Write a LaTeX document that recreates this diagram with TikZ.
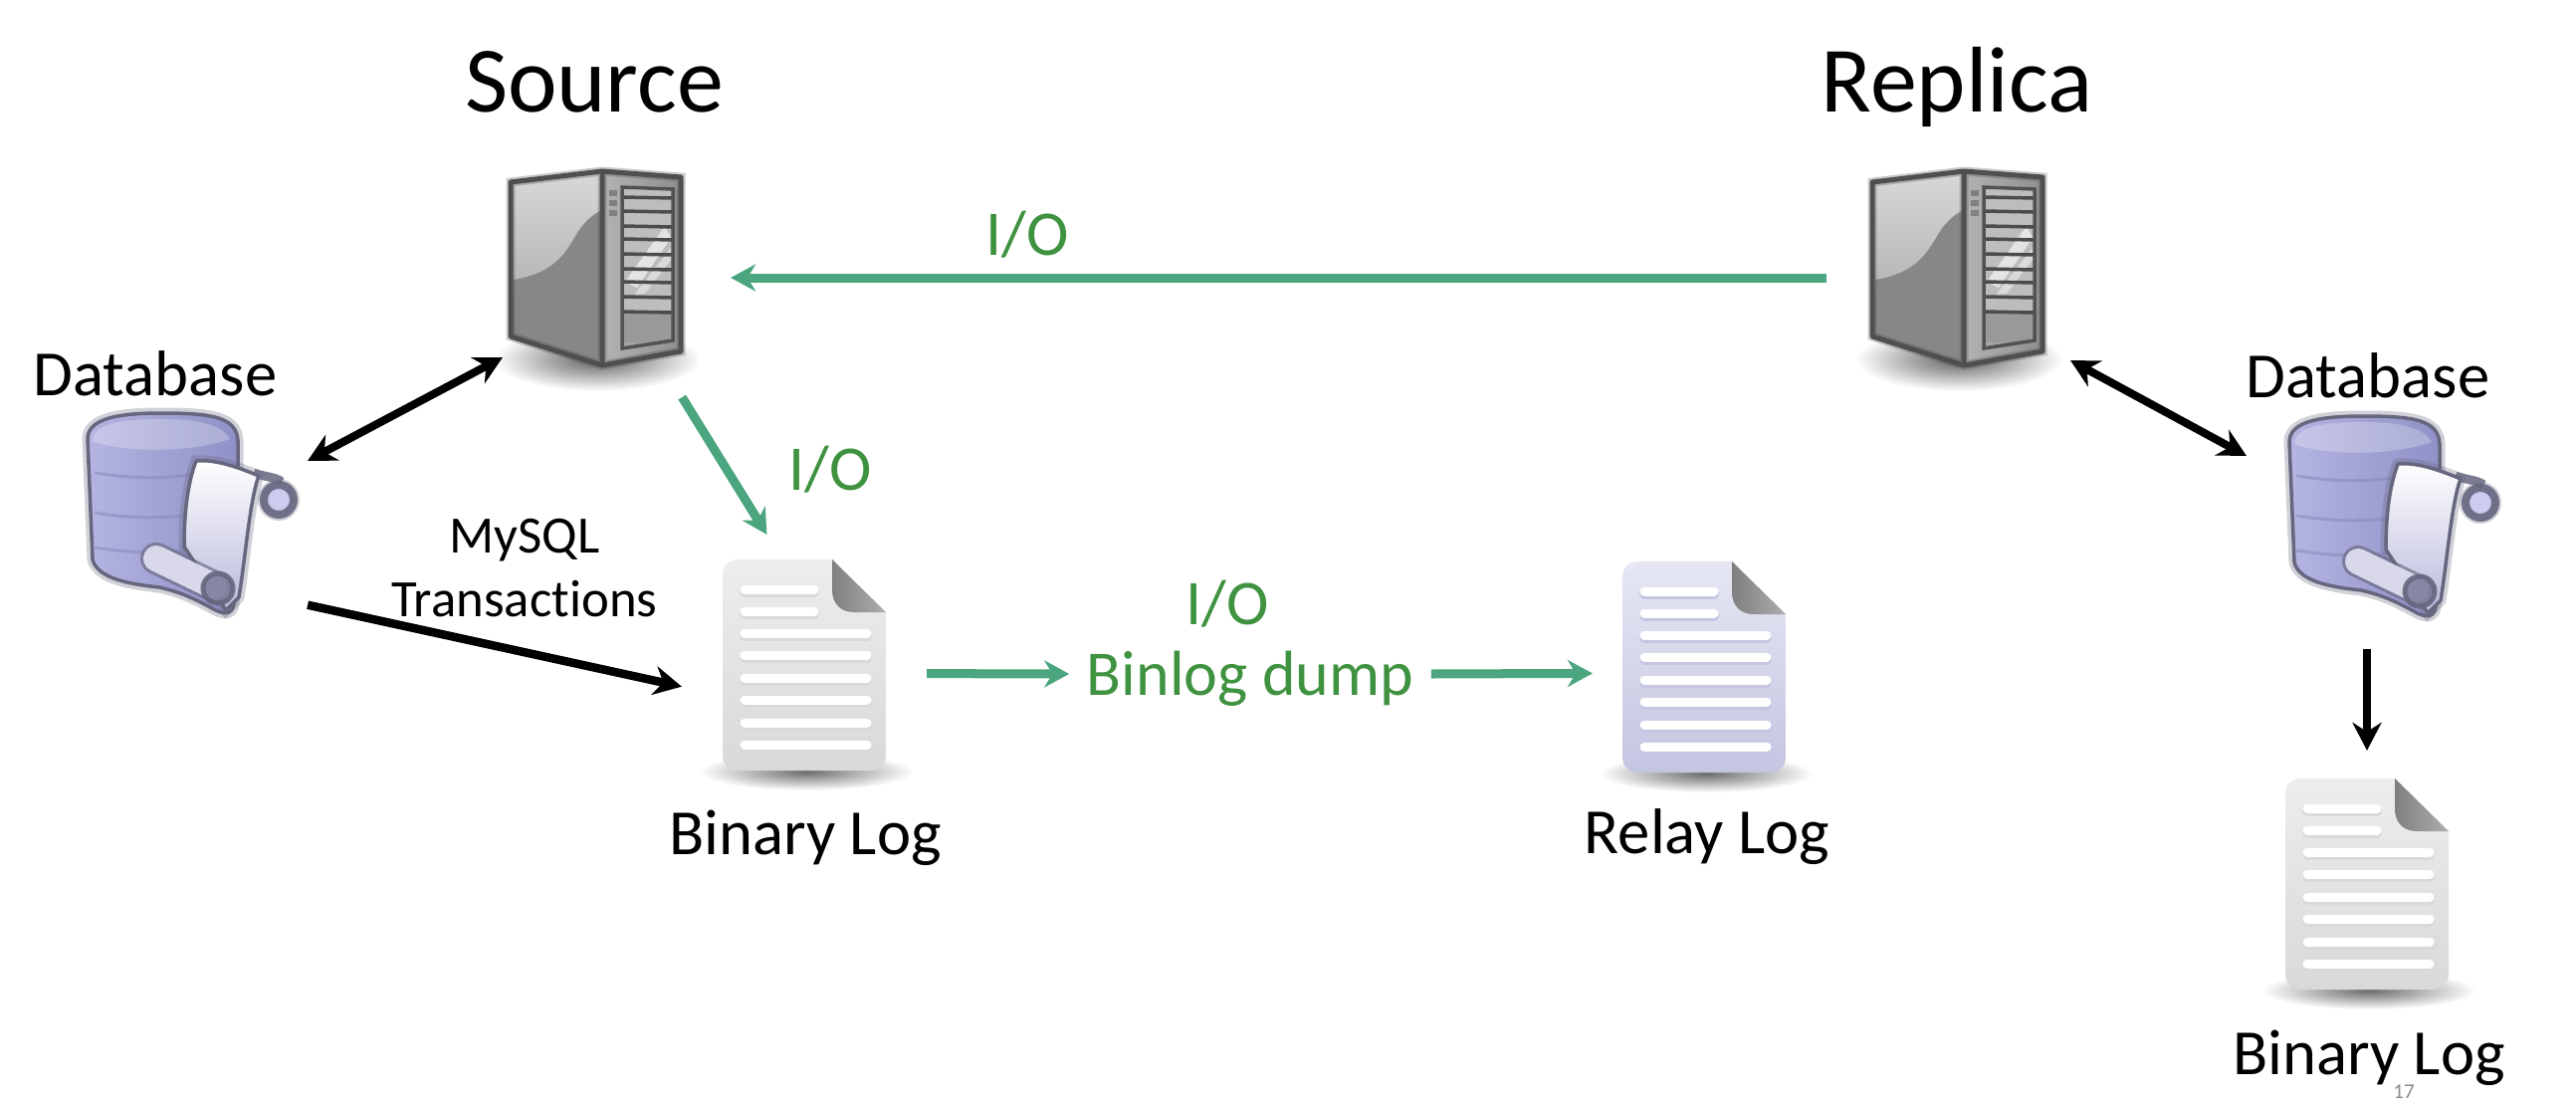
\documentclass[tikz,border=0pt]{standalone}
\usepackage{fontspec}
\setmainfont{Carlito}[Ligatures=NoCommon]
\usetikzlibrary{arrows.meta}
\definecolor{linkgreen}{HTML}{4BA57E}
\definecolor{iogreen}{HTML}{3F9240}
\definecolor{srvedge}{HTML}{4F4F4F}
\definecolor{dbedge}{HTML}{66667F}
\definecolor{dbleft}{HTML}{B4B5E2}
\definecolor{dbright}{HTML}{8F90C6}
\definecolor{dbsheet}{HTML}{B9B9DC}
\definecolor{dbroll}{HTML}{D8D8EA}
\definecolor{dbend}{HTML}{7F7F9E}
\definecolor{dbcurl}{HTML}{C8C8EE}
\definecolor{dbslice}{HTML}{8486B8}
\definecolor{docgraytop}{HTML}{EDEDED}
\definecolor{docgraybot}{HTML}{D9D9D9}
\definecolor{docbluetop}{HTML}{E6E7F3}
\definecolor{docbluebot}{HTML}{C4C5E1}
\definecolor{pagenum}{HTML}{8C8C8C}
\tikzset{
  srvbox/.style={minimum width=2.72cm,minimum height=2.4cm,inner sep=0pt,outer sep=0pt},
  dbbox/.style={minimum width=2.32cm,minimum height=2.4cm,inner sep=0pt,outer sep=0pt},
  docbox/.style={minimum width=2.46cm,minimum height=2.62cm,inner sep=0pt,outer sep=0pt},
  titletext/.style={font=\fontsize{26.7}{30}\selectfont,inner sep=0pt,anchor=base},
  labeltext/.style={font=\fontsize{18.4}{22}\selectfont,inner sep=0pt,anchor=base},
  iotext/.style={font=\fontsize{18.2}{22}\selectfont,inner sep=0pt,anchor=base,text=iogreen},
  blackline/.style={line width=.085cm,-{Stealth[length=.28cm,width=.29cm]}},
  blackboth/.style={line width=.08cm,{Stealth[length=.28cm,width=.29cm]}-{Stealth[length=.28cm,width=.29cm]}},
  greenline/.style={line width=.09cm,draw=linkgreen,-{Stealth[length=.25cm,width=.27cm]}},
  softshade/.style={shading=radial,inner color=black!#1,outer color=white},
  pics/srvicon/.style={code={
    \path[softshade=62] (2,82) ellipse (104 and 32);
    \path[top color=black!15,bottom color=black!38] (-85,-96) -- (7,-107) -- (7,88) -- (-85,59) -- cycle;
    \path[fill=black!47] (-82,2) .. controls (-40,-5) and (-30,-25) .. (-18,-45) .. controls (-10,-58) and (0,-65) .. (7,-68) -- (7,88) -- (-85,59) -- cycle;
    \path[left color=black!30,right color=black!44] (7,-107) -- (86,-101) -- (86,74) -- (7,88) -- cycle;
    \draw[srvedge,line width=.05cm,line join=round,preaction={draw=srvedge,opacity=.3,line width=.09cm}] (-85,-96) -- (7,-107) -- (86,-101) -- (86,74) -- (7,88) -- (-85,59) -- cycle (7,-107) -- (7,88);
    \foreach \ly in {-85,-75,-65} \path[fill=black!50] (14,\ly-3) rectangle (22,\ly+3);
    \path[fill=black!40] (27,34) rectangle (78,65);
    \path[fill=black!26] (27,-91) rectangle (78,34);
    \path[fill=white,opacity=.6] (30,4) -- (70,-52) -- (76,-40) -- (42,10) -- cycle;
    \path[fill=white,opacity=.45] (40,16) -- (76,-30) -- (76,-18) -- (50,16) -- cycle;
    \foreach \ly in {-81,-67,-52,-39,-24,-9,4,19,34} \draw[black!70,line width=.035cm] (27,\ly) -- (78,\ly+1);
    \draw[black!68,line width=.035cm] (27,-91) -- (78,-89) -- (78,63) -- (27,71) -- cycle;
  }},
  pics/docicon/.style 2 args={code={
    \path[softshade=58] (2,107) ellipse (108 and 19);
    \path[top color=#1,bottom color=#2] (28,-106) -- (82,-53) -- (82,90) .. controls (82,100) and (76,106) .. (66,106) -- (-66,106) .. controls (-76,106) and (-82,100) .. (-82,90) -- (-82,-90) .. controls (-82,-100) and (-76,-106) .. (-66,-106) -- cycle;
    \path[left color=black!50,right color=black!32] (28,-106) -- (82,-53) -- (50,-53) .. controls (36,-53) and (28,-62) .. (28,-76) -- cycle;
    \foreach \ly/\lx in {-76/15,-54/15,-32/68,-10/68,13/68,35/68,58/68,80/68} {
      \draw[#2,line width=.1cm,line cap=round] (-60,\ly+2.5) -- (\lx-5,\ly+2.5);
      \draw[white,line width=.09cm,line cap=round] (-60,\ly) -- (\lx-5,\ly);
    }
  }},
  pics/dbicon/.style={code={
    \path[left color=dbleft,right color=dbright,draw=dbedge,line width=.035cm,line join=round,preaction={draw=dbedge,opacity=.3,line width=.11cm}] (-105,-76) .. controls (-105,-98) and (-70,-102) .. (-30,-102) .. controls (20,-102) and (45,-98) .. (46,-74) -- (46,20) -- (42,90) .. controls (40,102) and (30,100) .. (20,94) .. controls (5,86) and (-10,78) .. (-33,73) .. controls (-60,70) and (-95,65) .. (-100,45) -- cycle;
    \path[fill=white,opacity=.25] (-100,-74) .. controls (-100,-94) and (-60,-96) .. (-30,-96) .. controls (0,-96) and (30,-92) .. (38,-76) .. controls (0,-62) and (-70,-62) .. (-100,-74) -- cycle;
    \foreach \ly in {-42,-2,33} \draw[dbslice,opacity=.5,line width=.03cm] (-98,\ly) .. controls (-60,\ly+6) and (-30,\ly+6) .. (0,\ly+2);
    \draw[dbedge,line width=.09cm,opacity=.85] (62,-42) .. controls (72,-38) and (84,-38) .. (90,-33);
    \draw[dbedge,fill=dbcurl,line width=.08cm,opacity=.9,preaction={draw=dbedge,opacity=.3,line width=.12cm}] (87,-15) circle (15);
    \path[top color=white,bottom color=dbsheet,draw=dbedge,line width=.035cm,line join=round,preaction={draw=dbedge,opacity=.3,line width=.11cm}] (4,-54) .. controls (25,-56) and (50,-46) .. (67,-39) .. controls (58,-15) and (54,40) .. (47,83) -- (34,96) -- (-8,32) .. controls (-8,0) and (-5,-30) .. (4,-54) -- cycle;
    \draw[dbedge,line width=.32cm,line cap=round,opacity=.65] (-36,44) -- (22,72);
    \draw[dbroll,line width=.26cm,line cap=round] (-36,44) -- (22,72);
    \draw[dbedge,fill=dbend,line width=.05cm,opacity=.9] (26,74) circle (15);
  }},
}
\begin{document}
\begin{tikzpicture}[x=.01cm,y=-.01cm,every node/.style={font=\fontsize{18}{22}\selectfont}]
  \useasboundingbox (0,0) rectangle (2588,1106);
  \node[srvbox] (srvSource) at (598,279) {};
  \node[srvbox] (srvReplica) at (1966,279) {};
  \node[dbbox] (dbSource) at (193,517) {};
  \node[dbbox] (dbReplica) at (2405,520) {};
  \node[docbox] (docBinary) at (808,668) {};
  \node[docbox] (docRelay) at (1712,670) {};
  \node[docbox] (docReplica) at (2378,888) {};
  \pic at (srvSource.center) {srvicon};
  \pic at (srvReplica.center) {srvicon};
  \pic at (dbSource.center) {dbicon};
  \pic at (dbReplica.center) {dbicon};
  \pic at (docBinary.center) {docicon={docgraytop}{docgraybot}};
  \pic at (docRelay.center) {docicon={docbluetop}{docbluebot}};
  \pic at (docReplica.center) {docicon={docgraytop}{docgraybot}};

  \node[titletext] (titleSource) at (597,112) {Source};
  \node[titletext] (titleReplica) at (1966,112) {Replica};
  \node[labeltext] (labelDbSource) at (156,397) {Database};
  \node[labeltext] (labelDbReplica) at (2379,399) {Database};
  \node[labeltext] (labelBinary) at (809,858) {Binary Log};
  \node[labeltext] (labelRelay) at (1715,857) {Relay Log};
  \node[labeltext] (labelBinaryReplica) at (2380,1079) {Binary Log};
  \node[font=\fontsize{15}{18.2}\selectfont,align=center,inner sep=0pt] (labelTrans) at (527,571) {MySQL\\Transactions};
  \node[iotext] (ioTop) at (1032,256) {I/O};
  \node[iotext] (ioDiag) at (834,492) {I/O};
  \node[iotext] (ioDump) at (1233,627) {I/O};
  \node[iotext,anchor=center,inner xsep=.17cm,text height=.5cm,text depth=.08cm] (labelBinlog) at (1256,677) {Binlog dump};
  \node[font=\fontsize{6}{7}\selectfont,text=pagenum,inner sep=0pt,anchor=base] (pageNum) at (2415,1103) {17};

  \draw[greenline,shorten <=-.05cm] (srvReplica.west) -- (srvSource.east);
  \draw[greenline] (srvSource.-54) -- (docBinary.106);
  \draw[greenline] (docBinary.-4) -- (labelBinlog.west);
  \draw[greenline,shorten >=-.11cm] (labelBinlog.east) -- (docRelay.183);
  \draw[blackboth] (dbSource.25) -- ([shift={(-93,80)}]srvSource.center);
  \draw[blackline] (dbSource.-38) -- (docBinary.190);
  \draw[blackboth] ([shift={(114,83)}]srvReplica.center) -- ([shift={(-148,-62)}]dbReplica.center);
  \draw[blackline,shorten >=.03cm] ([shift={(-27,132)}]dbReplica.center) -- (docReplica.north);
\end{tikzpicture}
\end{document}
